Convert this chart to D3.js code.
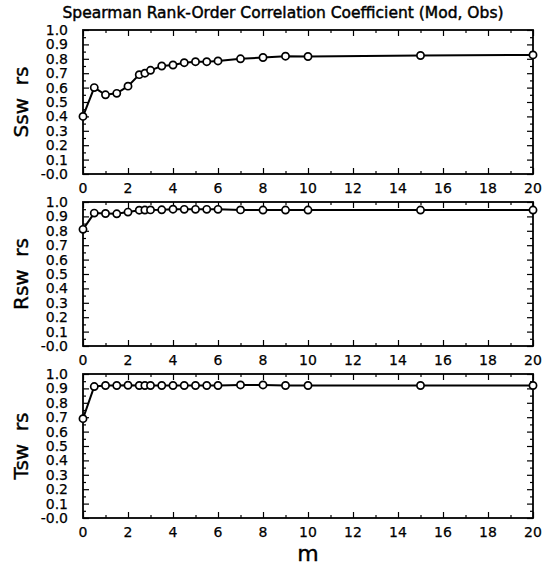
<!DOCTYPE html>
<html>
<head>
<meta charset="utf-8">
<script src="https://cdn.jsdelivr.net/npm/d3@7"></script>
<style>
  html, body { margin: 0; padding: 0; background: #fff; }
  svg { display: block; }
  text { font-family: "DejaVu Sans", "Liberation Sans", sans-serif; fill: #000; stroke: #000; stroke-width: 0.25; }
</style>
</head>
<body>
<script>
// m values shared by all three panels
const mValues = [0, 0.5, 1, 1.5, 2, 2.5, 2.75, 3, 3.5, 4, 4.5, 5, 5.5, 6, 7, 8, 9, 10, 15, 20];

// Spearman rank-order correlation for each score
const sswRs = [0.40, 0.60, 0.55, 0.56, 0.61, 0.69, 0.70, 0.72, 0.75, 0.757, 0.773, 0.78, 0.78, 0.785, 0.80, 0.809, 0.818, 0.816, 0.823, 0.827];
const rswRs = [0.81, 0.923, 0.92, 0.918, 0.93, 0.943, 0.944, 0.945, 0.946, 0.95, 0.949, 0.949, 0.949, 0.949, 0.945, 0.944, 0.944, 0.944, 0.944, 0.944];
const tswRs = [0.69, 0.913, 0.92, 0.92, 0.922, 0.92, 0.92, 0.92, 0.92, 0.92, 0.92, 0.92, 0.92, 0.92, 0.924, 0.924, 0.92, 0.92, 0.92, 0.92];

const panelNames = ["Ssw  rs", "Rsw  rs", "Tsw  rs"];
const panelSeries = [sswRs, rswRs, tswRs];

const xTickValues = d3.range(0, 21, 2);
const xMinorValues = d3.range(1, 20, 2);
const yTickValues = d3.range(0, 11).map(i => i / 10);
const yMinorValues = d3.range(0, 10).map(i => i / 10 + 0.05);
const yTickLabels = yTickValues.map(v => v === 0 ? "-0.0" : v.toFixed(1));

const titleText = "Spearman Rank-Order Correlation Coefficient (Mod, Obs)";
const xTitle = "m";

const W = 556, H = 567;
const left = 83, right = 533;
const panelTops = [30, 202, 374];
const panelH = 144;

const svg = d3.select("body").append("svg")
  .attr("width", W).attr("height", H);

svg.append("text")
  .attr("x", 283)
  .attr("y", 18)
  .attr("text-anchor", "middle")
  .attr("font-size", 15.5)
  .style("stroke-width", 0.45)
  .text(titleText);

const x = d3.scaleLinear().domain([0, 20]).range([left, right]);

panelSeries.forEach((series, i) => {
  const top = panelTops[i];
  const y = d3.scaleLinear().domain([0, 1]).range([top + panelH, top]);
  const g = svg.append("g");

  // inward ticks on all four sides
  const bottomAxis = d3.axisBottom(x).tickValues(xTickValues).tickSizeInner(-6).tickSizeOuter(0).tickFormat("");
  const bottomMinor = d3.axisBottom(x).tickValues(xMinorValues).tickSizeInner(-3).tickSizeOuter(0).tickFormat("");
  const topAxis = d3.axisTop(x).tickValues(xTickValues).tickSizeInner(-6).tickSizeOuter(0).tickFormat("");
  const topMinor = d3.axisTop(x).tickValues(xMinorValues).tickSizeInner(-3).tickSizeOuter(0).tickFormat("");
  const leftAxis = d3.axisLeft(y).tickValues(yTickValues).tickSizeInner(-6).tickSizeOuter(0).tickFormat("");
  const leftMinor = d3.axisLeft(y).tickValues(yMinorValues).tickSizeInner(-3).tickSizeOuter(0).tickFormat("");
  const rightAxis = d3.axisRight(y).tickValues(yTickValues).tickSizeInner(-6).tickSizeOuter(0).tickFormat("");
  const rightMinor = d3.axisRight(y).tickValues(yMinorValues).tickSizeInner(-3).tickSizeOuter(0).tickFormat("");

  const bottomY = top + panelH;
  [[bottomAxis, `translate(0,${bottomY})`], [bottomMinor, `translate(0,${bottomY})`],
   [topAxis, `translate(0,${top})`], [topMinor, `translate(0,${top})`],
   [leftAxis, `translate(${left},0)`], [leftMinor, `translate(${left},0)`],
   [rightAxis, `translate(${right},0)`], [rightMinor, `translate(${right},0)`]]
    .forEach(([ax, tr]) => {
      const a = g.append("g").attr("transform", tr).call(ax);
      a.select(".domain").remove();
      a.selectAll("line").attr("stroke", "#000").attr("stroke-width", 1.2);
    });

  // frame
  g.append("rect")
    .attr("x", left).attr("y", top)
    .attr("width", right - left).attr("height", panelH)
    .attr("fill", "none").attr("stroke", "#000").attr("stroke-width", 1.8);

  // y tick labels
  g.selectAll(".ylab").data(yTickValues).enter().append("text")
    .attr("x", left - 15)
    .attr("y", d => y(d))
    .attr("dy", "0.36em")
    .attr("text-anchor", "end")
    .attr("font-size", 14)
    .text((d, k) => yTickLabels[k]);

  // x tick labels
  g.selectAll(".xlab").data(xTickValues).enter().append("text")
    .attr("x", d => x(d))
    .attr("y", bottomY + 19)
    .attr("text-anchor", "middle")
    .attr("font-size", 14)
    .text(d => d);

  // y title
  g.append("text")
    .attr("transform", `translate(28,${top + panelH / 2}) rotate(-90)`)
    .attr("text-anchor", "middle")
    .attr("font-size", 20)
    .style("stroke-width", 0.4)
    .attr("xml:space", "preserve")
    .style("white-space", "pre")
    .text(panelNames[i]);

  // series line and open circles
  const pts = mValues.map((m, k) => [m, series[k]]);
  g.append("path")
    .datum(pts)
    .attr("fill", "none")
    .attr("stroke", "#000")
    .attr("stroke-width", 2)
    .attr("d", d3.line().x(d => x(d[0])).y(d => y(d[1])));

  g.selectAll("circle").data(pts).enter().append("circle")
    .attr("cx", d => x(d[0]))
    .attr("cy", d => y(d[1]))
    .attr("r", 3.6)
    .attr("fill", "#fff")
    .attr("stroke", "#000")
    .attr("stroke-width", 1.7);
});

svg.append("text")
  .attr("x", (left + right) / 2)
  .attr("y", 561)
  .attr("text-anchor", "middle")
  .attr("font-size", 22)
  .style("stroke-width", 0.4)
  .text(xTitle);
</script>
</body>
</html>
